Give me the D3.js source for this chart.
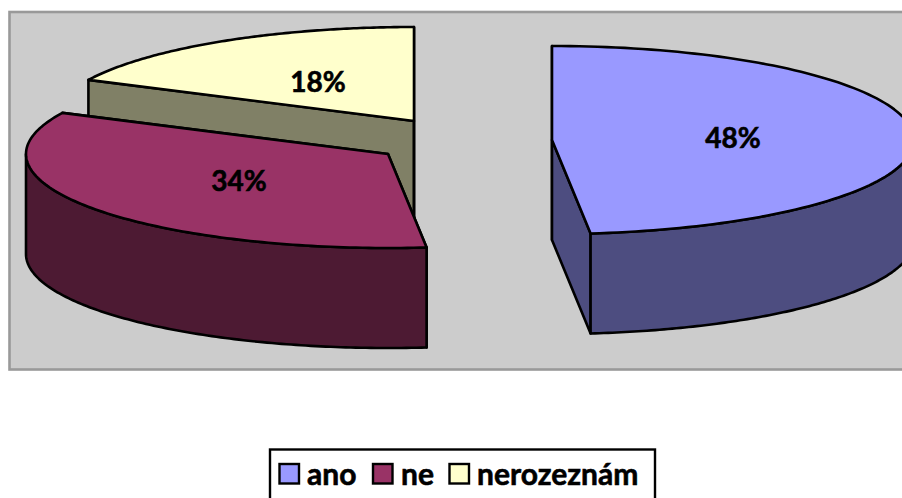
<!DOCTYPE html>
<html><head><meta charset="utf-8">
<script src="https://cdn.jsdelivr.net/npm/d3@7/dist/d3.min.js"></script>
<style>html,body{margin:0;padding:0;background:#fff;overflow:hidden}svg{display:block}</style>
</head><body><svg id="c" width="902" height="498"></svg>
<script>
const categories = ["ano", "ne", "nerozeznám"];
const values = [48.3, 33.9, 17.8];
const labels = ["48%", "34%", "18%"];
const topColors = ["#9999FF", "#993366", "#FFFFCC"];
const sideColors = ["#4D4D80", "#4D1A33", "#808066"];

const svg = d3.select("#c");
svg.append("rect").attr("x", 9.5).attr("y", 12).attr("width", 900).attr("height", 357.5)
  .attr("fill", "#CCCCCC").attr("stroke", "#999999").attr("stroke-width", 2.6);

const arcs = d3.pie().sort(null).value(d => d)(values);
const RX = 362, RY = 94, H = 100;
const centers = [[552, 140], [388, 154], [414, 121]];
const labelPos = [[733, 138], [239, 181], [318, 82]];
const px = (c, a) => c[0] + RX * Math.sin(a);
const py = (c, a) => c[1] - RY * Math.cos(a);
const STROKE = { stroke: "#000", "stroke-width": 2.6, "stroke-linejoin": "round" };

function arcPoints(c, a0, a1, dy) {
  const pts = [];
  const n = 120;
  for (let i = 0; i <= n; i++) {
    const a = a0 + (a1 - a0) * i / n;
    pts.push([px(c, a), py(c, a) + dy]);
  }
  return pts;
}
const line = d3.line();
function poly(pts, fill) {
  const p = svg.append("path").attr("d", line(pts) + "Z").attr("fill", fill);
  Object.entries(STROKE).forEach(([k, v]) => p.attr(k, v));
}
const PI = Math.PI;
function boldText(x, y, s, size, anchor) {
  return svg.append("text").attr("x", x).attr("y", y)
    .attr("text-anchor", anchor)
    .attr("font-family", "Lato, sans-serif").attr("font-weight", 700).attr("font-size", size)
    .attr("fill", "#000").attr("stroke", "#000").attr("stroke-width", 0.6).text(s);
}
[2, 1, 0].forEach(i => {
  const d = arcs[i], c = centers[i], a0 = d.startAngle, a1 = d.endAngle;
  const cut = a => [[c[0], c[1]], [px(c, a), py(c, a)], [px(c, a), py(c, a) + H], [c[0], c[1] + H]];
  poly(cut(a0), sideColors[i]);
  poly(cut(a1), sideColors[i]);
  const w0 = Math.max(a0, PI / 2), w1 = Math.min(a1, 3 * PI / 2);
  if (w1 > w0) {
    const top = arcPoints(c, w0, w1, 0), bot = arcPoints(c, w0, w1, H).reverse();
    poly(top.concat(bot), sideColors[i]);
  }
  poly([[c[0], c[1]]].concat(arcPoints(c, a0, a1, 0)), topColors[i]);
  boldText(labelPos[i][0], labelPos[i][1] + 10, labels[i], 28, "middle");
});

svg.append("rect").attr("x", 270).attr("y", 449.5).attr("width", 385).attr("height", 60)
  .attr("fill", "#fff").attr("stroke", "#000").attr("stroke-width", 2.4);
const swatchX = [279.5, 373, 449.5], textX = [307, 401, 477];
categories.forEach((n, i) => {
  svg.append("rect").attr("x", swatchX[i]).attr("y", 464).attr("width", 19.5).attr("height", 19.5)
    .attr("fill", topColors[i]).attr("stroke", "#000").attr("stroke-width", 2.4);
  boldText(textX[i], 485, n, 30, "start");
});
</script></body></html>
